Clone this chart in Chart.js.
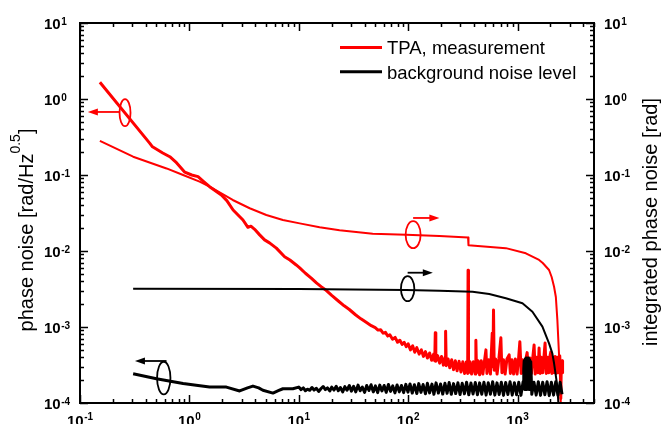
<!DOCTYPE html>
<html>
<head>
<meta charset="utf-8">
<script src="https://cdn.jsdelivr.net/npm/chart.js@4"></script>
<style>
  html, body { margin: 0; padding: 0; background: #fff; }
  canvas { display: block; }
</style>
</head>
<body>
<canvas id="noiseChart" width="671" height="424"></canvas>
<script>
// TPA phase noise (left axis, rad/Hz^0.5)
const tpaFreq = [
  0.152, 0.435, 0.46, 0.571, 0.662, 0.762, 0.908, 1.05, 1.2, 1.35,
  1.53, 1.96, 2.2, 2.51, 3.09, 3.43, 3.65, 3.95, 4.39, 4.87,
  5.4, 6.24, 7.42, 8.3, 9.48, 10.2, 11.5, 13, 14.5, 16,
  17.5, 20, 23, 26, 29, 33, 37, 41, 46, 50,
  53, 56, 59, 62, 65, 68, 72, 76, 80, 84,
  88, 92, 96, 100, 105, 110, 115, 120, 126, 132,
  138, 144, 150, 157, 164, 171, 175, 177, 179, 186,
  194, 202, 210, 218, 220, 223, 232, 240, 250, 260,
  270, 280, 292, 304, 316, 328, 340, 350, 353, 356,
  368, 380, 395, 410, 416, 422, 436, 450, 466, 482,
  500, 514, 525, 545, 565, 587, 595, 603, 612, 630,
  650, 675, 704, 720, 745, 770, 800, 838, 860, 890,
  920, 955, 990, 1020, 1050, 1080, 1115, 1150, 1190, 1224,
  1260, 1300, 1340, 1380, 1417, 1450, 1500, 1540, 1574, 1610,
  1650, 1700, 1745, 1785, 1830, 1880, 1930, 1975, 2012, 2060,
  2110, 2160, 2210, 2260, 2320, 2380, 2430, 2470, 2485, 2510,
  2560, 2580
];
const tpaNoise = [
  1.66, 0.261, 0.235, 0.195, 0.174, 0.145, 0.109, 0.100, 0.0951, 0.082,
  0.0702, 0.0546, 0.046, 0.0346, 0.0256, 0.0205, 0.0212, 0.0193, 0.0163, 0.0140,
  0.0128, 0.0109, 0.00841, 0.0076, 0.00655, 0.0060, 0.0051, 0.0044, 0.0038, 0.0034,
  0.0031, 0.0026, 0.0022, 0.0019, 0.0017, 0.00145, 0.00128, 0.00116, 0.00104, 0.00098,
  0.00091, 0.00092, 0.00083, 0.00085, 0.00076, 0.00079, 0.00069, 0.00073, 0.00063, 0.00067,
  0.00059, 0.00063, 0.00055, 0.00060, 0.00050, 0.000565, 0.000465, 0.000535, 0.00044, 0.00050,
  0.00041, 0.000475, 0.00039, 0.000455, 0.000365, 0.00044, 0.00036, 0.00084, 0.000355, 0.00042,
  0.000335, 0.00041, 0.000315, 0.00040, 0.00088, 0.00031, 0.00038, 0.00029, 0.00037, 0.000275,
  0.00036, 0.000265, 0.000355, 0.000255, 0.00035, 0.000245, 0.000345, 0.000245, 0.0056, 0.00025,
  0.00035, 0.00024, 0.00035, 0.00024, 0.00067, 0.00025, 0.00036, 0.000235, 0.00036, 0.00024,
  0.00037, 0.00050, 0.000245, 0.00037, 0.00024, 0.00083, 0.00030, 0.00167, 0.00027, 0.00038,
  0.00024, 0.00038, 0.00072, 0.00025, 0.00037, 0.00024, 0.00038, 0.00043, 0.000245, 0.00037,
  0.00024, 0.00038, 0.00024, 0.00037, 0.00064, 0.000245, 0.00037, 0.00024, 0.00038, 0.00046,
  0.00024, 0.00039, 0.000245, 0.00040, 0.00058, 0.00024, 0.00040, 0.00025, 0.00053, 0.000245,
  0.00040, 0.00025, 0.00041, 0.000615, 0.000245, 0.00040, 0.00025, 0.00041, 0.00047, 0.000245,
  0.00040, 0.00025, 0.00041, 0.000245, 0.00040, 0.00025, 0.00042, 0.00026, 0.000115, 0.00030,
  0.00036, 0.00025
];

// TPA integrated phase noise (right axis, rad)
const tpaIntFreq = [0.152, 0.306, 0.618, 0.876, 1.24, 1.53, 2.49, 3.56, 5.05, 7.16,
  10.2, 15.5, 23.6, 47.4, 95.7, 193, 353, 356, 782, 1191,
  1574, 1700, 1941, 2050, 2157, 2240, 2312, 2432, 2485];
const tpaInt = [0.282, 0.174, 0.122, 0.100, 0.0817, 0.0702, 0.0469, 0.0365, 0.0298, 0.0256,
  0.0231, 0.0205, 0.0187, 0.0169, 0.0164, 0.0157, 0.0151, 0.0119, 0.0109, 0.00933,
  0.00762, 0.00695, 0.00562, 0.00455, 0.00339, 0.00248, 0.00124, 0.000272, 0.0001];

// background noise level (left axis)
const bgFreq = [
  0.306, 0.5, 0.876, 1.2, 1.53, 2.18, 2.88, 3.4, 3.81, 4.3, 4.7, 5.81, 6.5, 7.16, 8.83,
  10, 10.5, 11, 11.5, 12, 12.6, 13.2, 13.8, 14.5, 15.2,
  16, 16.7, 17.5, 18.3, 19.2, 20, 21, 22, 23, 24,
  25.2, 26.4, 27.6, 29, 30.3, 31.7, 33.2, 34.8, 36.4, 38.1,
  40, 41.8, 43.8, 45.8, 48, 50.2, 52.6, 55, 57.6, 60.3,
  63, 66, 69, 72.3, 75.7, 79.2, 83, 86.8, 90.9, 95.2,
  99.6, 104, 109, 114, 120, 125, 131, 137, 144, 150,
  157, 165, 172, 180, 189, 198, 207, 217, 227, 237,
  248, 260, 272, 285, 298, 312, 327, 342, 358, 375,
  392, 411, 430, 450, 471, 493, 516, 540, 565, 592,
  620, 649, 679, 711, 744, 779, 816, 854, 894, 936,
  980, 1026, 1074, 1124, 1140, 1150, 1165, 1177, 1190, 1200,
  1215, 1232, 1245, 1260, 1275, 1290, 1305, 1320,
  1350, 1413, 1480, 1549, 1622, 1698, 1777, 1861, 1948,
  2039, 2135, 2235, 2340, 2450, 2550
];
const bgNoise = [
  2.43e-4, 2.09e-4, 1.80e-4, 1.70e-4, 1.62e-4, 1.62e-4, 1.44e-4, 1.58e-4, 1.67e-4, 1.58e-4, 1.47e-4, 1.35e-4, 1.45e-4, 1.54e-4, 1.54e-4,
  1.62e-4, 1.50e-4, 1.58e-4, 1.45e-4, 1.52e-4, 1.47e-4, 1.60e-4, 1.48e-4, 1.56e-4, 1.42e-4,
  1.55e-4, 1.65e-4, 1.50e-4, 1.58e-4, 1.44e-4, 1.62e-4, 1.48e-4, 1.66e-4, 1.45e-4, 1.60e-4,
  1.40e-4, 1.64e-4, 1.47e-4, 1.70e-4, 1.43e-4, 1.66e-4, 1.40e-4, 1.72e-4, 1.45e-4, 1.62e-4,
  1.38e-4, 1.70e-4, 1.46e-4, 1.74e-4, 1.40e-4, 1.68e-4, 1.37e-4, 1.72e-4, 1.44e-4, 1.70e-4,
  1.38e-4, 1.75e-4, 1.42e-4, 1.68e-4, 1.36e-4, 1.73e-4, 1.40e-4, 1.70e-4, 1.37e-4, 1.76e-4,
  1.39e-4, 1.78e-4, 1.35e-4, 1.74e-4, 1.33e-4, 1.80e-4, 1.38e-4, 1.75e-4, 1.32e-4, 1.82e-4,
  1.36e-4, 1.77e-4, 1.30e-4, 1.84e-4, 1.35e-4, 1.78e-4, 1.31e-4, 1.82e-4, 1.34e-4, 1.86e-4,
  1.30e-4, 1.80e-4, 1.33e-4, 1.85e-4, 1.29e-4, 1.82e-4, 1.32e-4, 1.88e-4, 1.28e-4, 1.83e-4,
  1.31e-4, 1.86e-4, 1.28e-4, 1.84e-4, 1.30e-4, 1.88e-4, 1.27e-4, 1.85e-4, 1.30e-4, 1.90e-4,
  1.27e-4, 1.84e-4, 1.29e-4, 1.88e-4, 1.26e-4, 1.86e-4, 1.29e-4, 1.90e-4, 1.27e-4, 1.85e-4,
  1.28e-4, 1.88e-4, 1.26e-4, 1.90e-4, 2.8e-4, 3.6e-4, 1.5e-4, 3.8e-4, 1.6e-4, 3.9e-4,
  1.5e-4, 3.8e-4, 1.6e-4, 3.9e-4, 1.5e-4, 3.7e-4, 1.6e-4, 3.5e-4,
  1.30e-4, 1.88e-4, 1.27e-4, 1.90e-4, 1.26e-4, 1.88e-4, 1.28e-4, 1.91e-4, 1.25e-4,
  1.88e-4, 1.27e-4, 1.90e-4, 1.26e-4, 1.88e-4, 1.30e-4
];

// background integrated phase noise (right axis)
const bgIntFreq = [0.306, 10, 95.5, 193, 388, 551, 782, 1109, 1368, 1688, 1941, 2080, 2157, 2312, 2362];
const bgInt = [3.19e-3, 3.17e-3, 3.06e-3, 3.0e-3, 2.91e-3, 2.72e-3, 2.39e-3, 2.05e-3, 1.59e-3, 1.01e-3, 6.1e-4, 4.5e-4, 3.33e-4, 1.64e-4, 1.0e-4];

const legendLabels = ["TPA, measurement", "background noise level"];
const xTickExp = [-1, 0, 1, 2, 3];
const yTickExp = [-4, -3, -2, -1, 0, 1];

const FONT = '"Liberation Sans", Arial, Helvetica, sans-serif';

function toPoints(xs, ys) {
  return xs.map((x, i) => ({ x: x, y: ys[i] }));
}

function logTickList(loExp, hiValue) {
  const list = [];
  for (let e = loExp; Math.pow(10, e) <= hiValue * 1.0001; e++) {
    for (let m = 1; m <= 9; m++) {
      const v = m * Math.pow(10, e);
      if (v <= hiValue * 1.0001) list.push({ v: v, major: m === 1 });
    }
  }
  return list;
}

// ellipse + arrow markers telling which axis a curve belongs to
const markers = [
  { color: "#ff0000", axis: "y", at: [0.258, 0.66], rx: 5.5, ry: 13.5, from: [0.232, 0.675], to: [0.118, 0.675] },
  { color: "#ff0000", axis: "y2", at: [111, 0.0164], rx: 7.5, ry: 13.5, from: [111, 0.0272], to: [193, 0.0272] },
  { color: "#000000", axis: "y2", at: [98.9, 3.19e-3], rx: 6.7, ry: 12.5, from: [98.9, 5.18e-3], to: [168, 5.18e-3] },
  { color: "#000000", axis: "y", at: [0.583, 2.13e-4], rx: 6.7, ry: 16.3, from: [0.618, 3.57e-4], to: [0.318, 3.57e-4] }
];

function drawPow(ctx, exp, x, baseY, supY) {
  ctx.font = "bold 15px " + FONT;
  ctx.fillText("10", x, baseY);
  const w = ctx.measureText("10").width;
  ctx.font = "bold 10px " + FONT;
  ctx.fillText(String(exp), x + w + 0.5, supY);
}

function powWidth(ctx, exp) {
  ctx.font = "bold 15px " + FONT;
  const w = ctx.measureText("10").width;
  ctx.font = "bold 10px " + FONT;
  return w + 0.5 + ctx.measureText(String(exp)).width;
}

function drawRotated(ctx, cx, cy, parts) {
  ctx.save();
  ctx.translate(cx, cy);
  ctx.rotate(-Math.PI / 2);
  ctx.textAlign = "left";
  ctx.textBaseline = "alphabetic";
  let total = 0;
  parts.forEach(p => { ctx.font = p.font; p.w = ctx.measureText(p.text).width; total += p.w; });
  let x = -total / 2;
  parts.forEach(p => { ctx.font = p.font; ctx.fillText(p.text, x, p.dy); x += p.w; });
  ctx.restore();
}

const framePlugin = {
  id: "frame",
  afterDatasetsDraw(chart) {
    const { ctx, chartArea: a, scales } = chart;
    const xs = scales.x, ys = scales.y;
    ctx.save();

    // markers
    markers.forEach(m => {
      const yScale = scales[m.axis];
      const cx = xs.getPixelForValue(m.at[0]), cy = yScale.getPixelForValue(m.at[1]);
      const x1 = xs.getPixelForValue(m.from[0]), y1 = yScale.getPixelForValue(m.from[1]);
      const x2 = xs.getPixelForValue(m.to[0]), y2 = yScale.getPixelForValue(m.to[1]);
      ctx.strokeStyle = m.color;
      ctx.fillStyle = m.color;
      ctx.lineWidth = 1.8;
      ctx.beginPath();
      ctx.ellipse(cx, cy, m.rx, m.ry, 0, 0, Math.PI * 2);
      ctx.stroke();
      const dir = Math.sign(x2 - x1);
      ctx.beginPath();
      ctx.moveTo(x1, y1);
      ctx.lineTo(x2 - dir * 8, y2);
      ctx.stroke();
      ctx.beginPath();
      ctx.moveTo(x2, y2);
      ctx.lineTo(x2 - dir * 10, y2 - 3.5);
      ctx.lineTo(x2 - dir * 10, y2 + 3.5);
      ctx.closePath();
      ctx.fill();
    });

    // ticks, pointing inward on all four sides
    ctx.strokeStyle = "#000";
    ctx.lineWidth = 1.5;
    ctx.beginPath();
    logTickList(-1, xs.max).forEach(t => {
      const px = Math.round(xs.getPixelForValue(t.v)) + 0.5;
      const len = t.major ? 8 : 4;
      ctx.moveTo(px, a.bottom); ctx.lineTo(px, a.bottom - len);
      ctx.moveTo(px, a.top); ctx.lineTo(px, a.top + len);
    });
    logTickList(-4, ys.max).forEach(t => {
      const py = Math.round(ys.getPixelForValue(t.v)) + 0.5;
      const len = t.major ? 8 : 4;
      ctx.moveTo(a.left, py); ctx.lineTo(a.left + len, py);
      ctx.moveTo(a.right, py); ctx.lineTo(a.right - len, py);
    });
    ctx.stroke();

    ctx.lineWidth = 2;
    ctx.strokeRect(a.left, a.top, a.right - a.left, a.bottom - a.top);

    // tick labels
    ctx.fillStyle = "#000";
    ctx.textAlign = "left";
    ctx.textBaseline = "alphabetic";
    yTickExp.forEach(e => {
      const py = ys.getPixelForValue(Math.pow(10, e));
      drawPow(ctx, e, a.left - 36, py + 6.3, py + 1.5);
      drawPow(ctx, e, a.right + 10, py + 6.3, py + 1.5);
    });
    xTickExp.forEach(e => {
      const px = xs.getPixelForValue(Math.pow(10, e));
      const w = powWidth(ctx, e);
      drawPow(ctx, e, px - w / 2, a.bottom + 23, a.bottom + 16.5);
    });

    // axis titles
    drawRotated(ctx, 32.5, (a.top + a.bottom) / 2 + 17, [
      { text: "phase noise [rad/Hz", font: "20px " + FONT, dy: 0 },
      { text: "0.5", font: "14px " + FONT, dy: -12.5 },
      { text: "]", font: "20px " + FONT, dy: 0 }
    ]);
    drawRotated(ctx, a.right + 62.5, (a.top + a.bottom) / 2 + 9, [
      { text: "integrated phase noise [rad]", font: "20px " + FONT, dy: 0 }
    ]);

    // legend
    const legendColors = ["#ff0000", "#000000"];
    ctx.font = "18.5px " + FONT;
    legendLabels.forEach((label, i) => {
      const ly = 47.5 + i * 24.3;
      ctx.strokeStyle = legendColors[i];
      ctx.lineWidth = 3;
      ctx.beginPath();
      ctx.moveTo(340, ly);
      ctx.lineTo(382, ly);
      ctx.stroke();
      ctx.fillStyle = "#000";
      ctx.fillText(label, 387, ly + 6.7);
    });

    ctx.restore();
  }
};

const ctx = document.getElementById("noiseChart").getContext("2d");
const noiseChart = new Chart(ctx, {
  type: "line",
  data: {
    datasets: [
      { label: "TPA integrated", data: toPoints(tpaIntFreq, tpaInt), yAxisID: "y2", borderColor: "#ff0000", borderWidth: 2, order: 3 },
      { label: legendLabels[0], data: toPoints(tpaFreq, tpaNoise), yAxisID: "y", borderColor: "#ff0000", borderWidth: 3, order: 2 },
      { label: "background integrated", data: toPoints(bgIntFreq, bgInt), yAxisID: "y2", borderColor: "#000000", borderWidth: 2, order: 1 },
      { label: legendLabels[1], data: toPoints(bgFreq, bgNoise), yAxisID: "y", borderColor: "#000000", borderWidth: 3, order: 0 }
    ]
  },
  options: {
    responsive: false,
    animation: false,
    devicePixelRatio: 1,
    layout: { padding: { left: 80, right: 77, top: 23, bottom: 21 } },
    elements: {
      point: { radius: 0 },
      line: { tension: 0, fill: false, borderJoinStyle: "round", borderCapStyle: "butt" }
    },
    plugins: { legend: { display: false }, tooltip: { enabled: false } },
    scales: {
      x: { type: "logarithmic", min: 0.1, max: 5000, display: false },
      y: { type: "logarithmic", position: "left", min: 1e-4, max: 10, display: false },
      y2: { type: "logarithmic", position: "right", min: 1e-4, max: 10, display: false }
    }
  },
  plugins: [framePlugin]
});
</script>
</body>
</html>
